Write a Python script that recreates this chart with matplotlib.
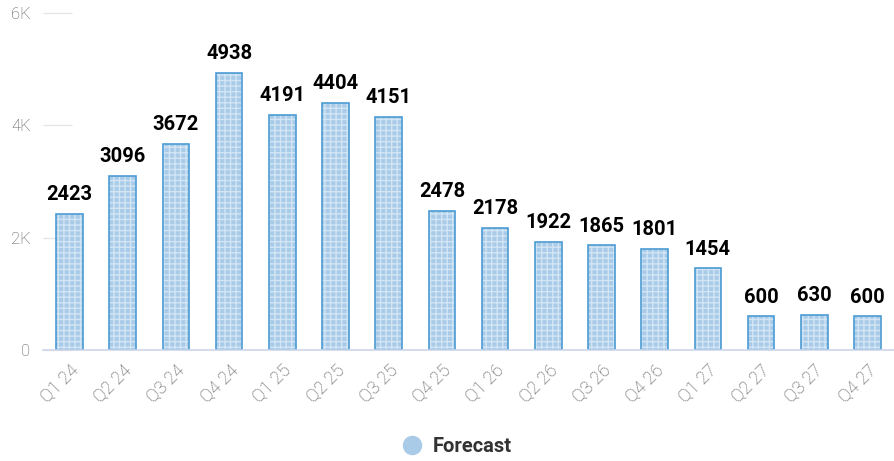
import matplotlib
matplotlib.use("Agg")
import matplotlib.pyplot as plt
from matplotlib.lines import Line2D

quarters = ["Q1 24", "Q2 24", "Q3 24", "Q4 24", "Q1 25", "Q2 25", "Q3 25", "Q4 25",
            "Q1 26", "Q2 26", "Q3 26", "Q4 26", "Q1 27", "Q2 27", "Q3 27", "Q4 27"]
forecast = [2423, 3096, 3672, 4938, 4191, 4404, 4151, 2478,
            2178, 1922, 1865, 1801, 1454, 600, 630, 600]
yticks = [0, 2000, 4000, 6000]
ytick_labels = ["0", "2K", "4K", "6K"]

plt.rcParams['font.family'] = ['Roboto', 'DejaVu Sans']
plt.rcParams['hatch.linewidth'] = 1.0

fig = plt.figure(figsize=(8.94, 4.61), dpi=100)
ax = fig.add_axes([0.0481, 0.2408, 0.9519, 0.731])

x = range(len(quarters))
# textured fill first, then the outline on top
ax.bar(x, forecast, width=0.5, color='#a9cbe8', edgecolor='#d2e5f4',
       hatch='+++', linewidth=0, zorder=2)
ax.bar(x, forecast, width=0.5, fill=False, edgecolor='#4b9bd3', linewidth=1.2, zorder=3)

for i, v in enumerate(forecast):
    ax.annotate(str(v), (i, v), xytext=(0, 7), textcoords='offset points',
                ha='center', va='bottom', fontsize=14.5, fontweight='bold', color='#000000')

ax.set_xlim(-0.5, len(quarters) - 0.5)
ax.set_ylim(0, 6000)
ax.set_yticks(yticks)
ax.set_yticklabels(ytick_labels, fontsize=12, color='#555555', fontweight='light')
ax.set_xticks(list(x))
ax.set_xticklabels(quarters, rotation=45, ha='right', rotation_mode='anchor',
                   fontsize=13, color='#555555', fontweight='light')

ax.tick_params(axis='y', direction='in', length=21, width=1, color='#e6e6e6', pad=9)
ax.tick_params(axis='x', length=0, pad=8)
ax.set_axisbelow(True)

for side in ['top', 'right', 'left']:
    ax.spines[side].set_visible(False)
ax.spines['bottom'].set_color('#ccd6eb')
ax.spines['bottom'].set_linewidth(1.2)
ax.spines['bottom'].set_zorder(4)

handle = Line2D([], [], marker='o', linestyle='none', markersize=13,
                markerfacecolor='#a9cbe8', markeredgecolor='#a9cbe8')
fig.legend([handle], ['Forecast'], loc='center', bbox_to_anchor=(0.509, 0.032),
           frameon=False, handletextpad=0.3, handlelength=1.4,
           prop={'size': 14.5, 'weight': 'bold'}, labelcolor='#333333')

fig.savefig('out.png', dpi=100)
